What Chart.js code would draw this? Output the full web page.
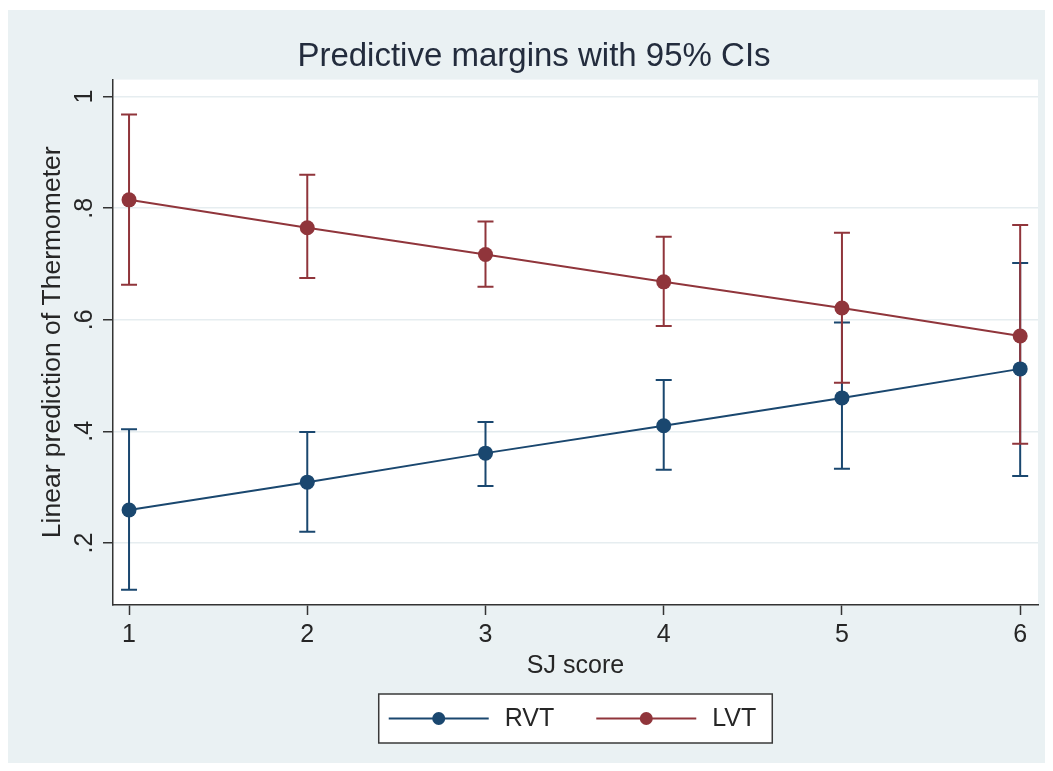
<!DOCTYPE html>
<html>
<head>
<meta charset="utf-8">
<script src="https://cdn.jsdelivr.net/npm/chart.js@4.4.1/dist/chart.umd.min.js"></script>
<style>
  html, body { margin: 0; padding: 0; background: #fff; }
  #wrap { position: absolute; left: 0; top: 0; width: 1053px; height: 771px; }
</style>
</head>
<body>
<div id="wrap"><canvas id="chart" width="1053" height="771"></canvas></div>
<script>
// SJ score categories
const scores = [1, 2, 3, 4, 5, 6];

// RVT margins and 95% CI
const rvt   = [0.259, 0.309, 0.361, 0.410, 0.460, 0.512];
const rvtLo = [0.116, 0.220, 0.302, 0.331, 0.333, 0.320];
const rvtHi = [0.404, 0.399, 0.417, 0.492, 0.595, 0.702];

// LVT margins and 95% CI
const lvt   = [0.815, 0.765, 0.717, 0.668, 0.621, 0.571];
const lvtLo = [0.663, 0.675, 0.659, 0.589, 0.487, 0.378];
const lvtHi = [0.968, 0.860, 0.776, 0.749, 0.756, 0.770];

const xTicks = [1, 2, 3, 4, 5, 6];
const yTicks = [0.2, 0.4, 0.6, 0.8, 1];
const yTickLabels = ['.2', '.4', '.6', '.8', '1'];

const family = '"Liberation Sans", Arial, sans-serif';
const bgColor = '#eaf1f3';
const axisColor = '#333333';
const textColor = '#262626';
const navy = '#1a476f';
const maroon = '#90353b';

const series = [
  { label: 'RVT', values: rvt, lo: rvtLo, hi: rvtHi, color: navy },
  { label: 'LVT', values: lvt, lo: lvtLo, hi: lvtHi, color: maroon }
];

// fond bleuté + zone de tracé blanche
const backdrop = {
  id: 'backdrop',
  beforeDraw(chart) {
    const { ctx, chartArea: a, width, height } = chart;
    ctx.save();
    ctx.fillStyle = '#ffffff';
    ctx.fillRect(0, 0, width, height);
    ctx.fillStyle = bgColor;
    ctx.fillRect(8, 10, 1037, 753);
    ctx.fillStyle = '#ffffff';
    ctx.fillRect(a.left, a.top, a.right - a.left, a.bottom - a.top);
    ctx.restore();
  }
};

// barres d'erreur (rcap)
const ciBars = {
  id: 'ciBars',
  beforeDatasetsDraw(chart) {
    const { ctx, scales: { x, y } } = chart;
    ctx.save();
    ctx.lineWidth = 2;
    series.forEach(s => {
      ctx.strokeStyle = s.color;
      ctx.beginPath();
      scores.forEach((score, i) => {
        const px = x.getPixelForValue(score);
        const yLo = y.getPixelForValue(s.lo[i]);
        const yHi = y.getPixelForValue(s.hi[i]);
        ctx.moveTo(px, yLo); ctx.lineTo(px, yHi);
        ctx.moveTo(px - 8, yLo); ctx.lineTo(px + 8, yLo);
        ctx.moveTo(px - 8, yHi); ctx.lineTo(px + 8, yHi);
      });
      ctx.stroke();
    });
    ctx.restore();
  }
};

// légende encadrée façon Stata
const boxLegend = {
  id: 'boxLegend',
  afterDraw(chart) {
    const { ctx, chartArea: a, scales: { x } } = chart;
    ctx.save();
    ctx.font = '25px ' + family;
    const widths = series.map(s => ctx.measureText(s.label).width);
    const total = 10 + widths.reduce((acc, w) => acc + 100 + 16 + w, 0) + 42 + 16;
    const left = (a.left + a.right) / 2 - total / 2;
    const top = 694;
    const h = 49;
    ctx.fillStyle = '#ffffff';
    ctx.fillRect(left, top, total, h);
    ctx.strokeStyle = '#3a3a3a';
    ctx.lineWidth = 1.5;
    ctx.strokeRect(left, top, total, h);
    const cy = top + h / 2;
    let cx = left + 10;
    series.forEach((s, i) => {
      ctx.strokeStyle = s.color;
      ctx.lineWidth = 2;
      ctx.beginPath(); ctx.moveTo(cx, cy); ctx.lineTo(cx + 100, cy); ctx.stroke();
      ctx.fillStyle = s.color;
      ctx.beginPath(); ctx.arc(cx + 50, cy, 6.5, 0, Math.PI * 2); ctx.fill();
      ctx.fillStyle = textColor;
      ctx.textBaseline = 'middle';
      ctx.fillText(s.label, cx + 116, cy + 1);
      cx += 116 + widths[i] + 42;
    });
    ctx.restore();
  }
};

new Chart(document.getElementById('chart'), {
  type: 'line',
  data: {
    datasets: series.map(s => ({
      label: s.label,
      data: scores.map((score, i) => ({ x: score, y: s.values[i] })),
      borderColor: s.color,
      backgroundColor: s.color,
      borderWidth: 2,
      pointRadius: 7.5,
      pointBorderWidth: 0,
      pointBackgroundColor: s.color,
      tension: 0,
      fill: false
    }))
  },
  options: {
    responsive: false,
    animation: false,
    devicePixelRatio: 1,
    events: [],
    layout: { padding: { left: 30, right: 15, top: 10, bottom: 90 } },
    plugins: {
      legend: { display: false },
      tooltip: { enabled: false },
      title: {
        display: true,
        text: 'Predictive margins with 95% CIs',
        color: '#232c3d',
        font: { family: family, size: 33, weight: 'normal' },
        padding: { top: 27, bottom: 3 }
      }
    },
    scales: {
      x: {
        type: 'linear',
        min: 0.91,
        max: 6.1,
        afterBuildTicks: s => { s.ticks = xTicks.map(v => ({ value: v })); },
        ticks: {
          color: textColor,
          font: { family: family, size: 25 },
          padding: 5,
          callback: v => String(v)
        },
        grid: { drawOnChartArea: false, tickLength: 10, tickColor: axisColor, tickWidth: 1.5 },
        border: { color: axisColor, width: 1.5 },
        title: {
          display: true,
          text: 'SJ score',
          color: textColor,
          font: { family: family, size: 25 },
          padding: { top: -4, bottom: 0 }
        }
      },
      y: {
        type: 'linear',
        min: 0.0888,
        max: 1.0305,
        afterBuildTicks: s => { s.ticks = yTicks.map(v => ({ value: v })); },
        afterFit: s => { s.width = 83; },
        ticks: {
          color: textColor,
          font: { family: family, size: 25 },
          minRotation: 90,
          maxRotation: 90,
          crossAlign: 'center',
          padding: 7,
          callback: v => yTickLabels[yTicks.indexOf(v)]
        },
        grid: { color: '#e6edf0', lineWidth: 1.5, tickLength: 10, tickColor: axisColor, tickWidth: 1.5 },
        border: { color: axisColor, width: 1.5 },
        title: {
          display: true,
          text: 'Linear prediction of Thermometer',
          color: textColor,
          font: { family: family, size: 26.5 },
          padding: { top: 7, bottom: 0 }
        }
      }
    }
  },
  plugins: [backdrop, ciBars, boxLegend]
});
</script>
</body>
</html>
